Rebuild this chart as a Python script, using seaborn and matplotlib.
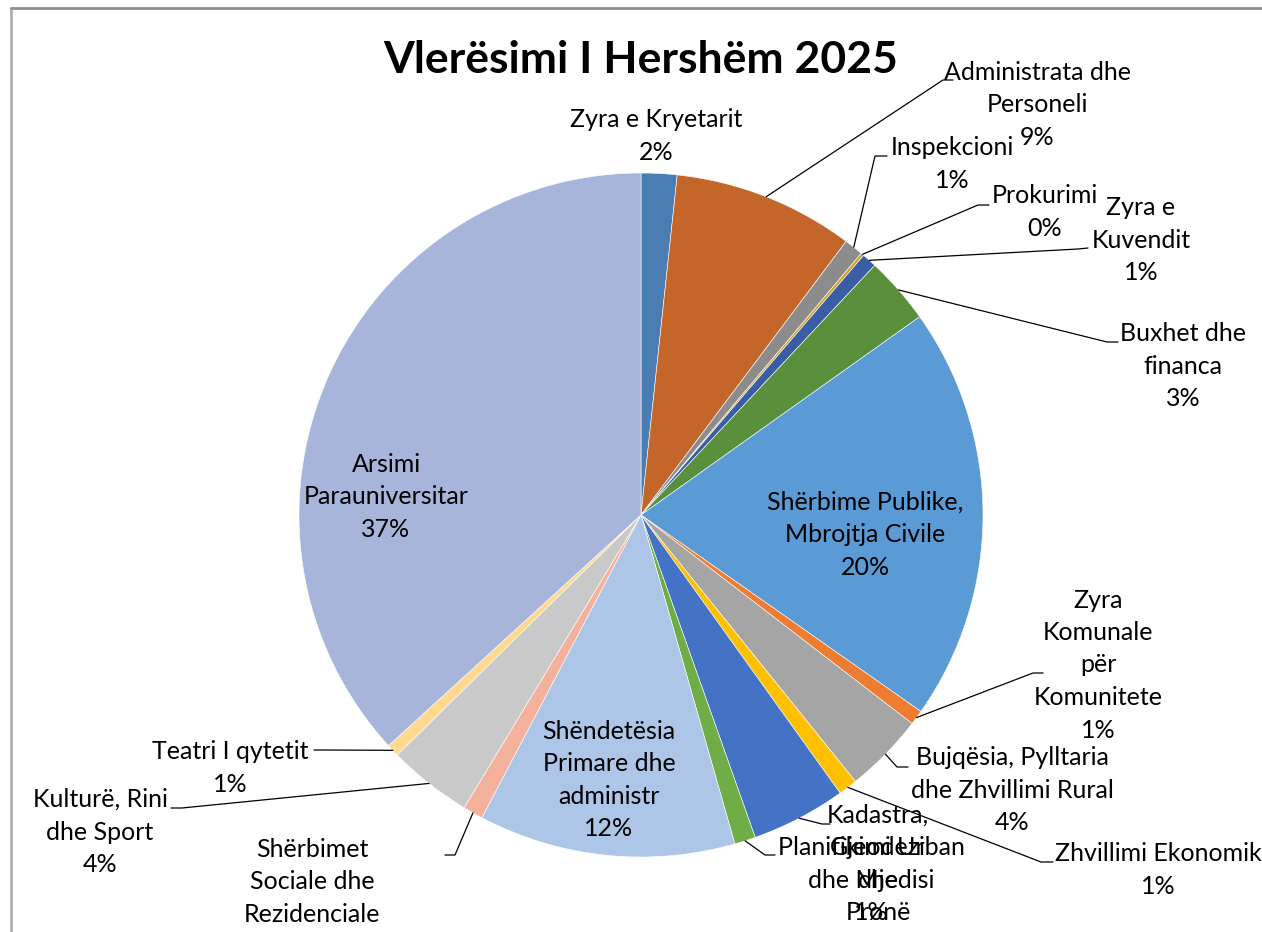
import numpy as np
import matplotlib
matplotlib.use("Agg")
import matplotlib.pyplot as plt
import seaborn as sns

# datos (porcentaje aproximado de cada sector)
sectores = [
    "Zyra e Kryetarit", "Administrata dhe\nPersoneli", "Inspekcioni", "Prokurimi",
    "Zyra e\nKuvendit", "Buxhet dhe\nfinanca", "Shërbime Publike,\nMbrojtja Civile",
    "Zyra\nKomunale\npër\nKomunitete", "Bujqësia, Pylltaria\ndhe Zhvillimi Rural",
    "Zhvillimi Ekonomik", "Kadastra,\nGjeodezi\ndhe\nPronë", "Planifikimi Urban\ndhe Mjedisi",
    "Shëndetësia\nPrimare dhe\nadministr", "Shërbimet\nSociale dhe\nRezidenciale",
    "Kulturë, Rini\ndhe Sport", "Teatri I qytetit", "Arsimi\nParauniversitar",
]
valores = [1.7, 8.6, 0.9, 0.15, 0.7, 3.2, 19.7, 0.7, 3.8, 0.9, 4.5, 1.0,
           12.2, 0.95, 4.0, 0.6, 37.0]
colores = ["#4A7EB3", "#C4652A", "#8C8C8C", "#D6A228", "#3A5EA6", "#5A8F3B",
           "#5B9BD5", "#ED7D31", "#A5A5A5", "#FFC000", "#4472C4", "#70AD47",
           "#ADC6E8", "#F4B29C", "#C9C9C9", "#FFD98F", "#A8B5DA"]

W, H = 1262, 932
# centro y radio del pastel en pixeles
cx, cy, radio = 641, 515, 342

# centro de cada etiqueta (pixeles)
pos_etiq = [(656, 136), (1037, 105), (952, 164), (1045, 212), (1141, 240),
            (1183, 366), (865, 535), (1098, 665), (1012, 790), (1158, 870),
            (878, 880), (871, 880), (609, 780), (312, 898), (100, 832), (230, 768),
            (386, 497)]
# lineas guia: codo y extremo (pixeles), None = sin linea
codo = [None, (943, 80), (875, 156), (978, 205), (1078, 249), (1107, 342),
        None, (1033, 673), (897, 767), (1041, 862), (822, 824), (765, 855),
        None, (455, 855), (182, 808), (323, 750), None]
extremo = [None, (953, 80), (887, 156), (989, 205), (1088, 248), (1118, 342),
           None, (1043, 673), (908, 767), (1053, 862), (830, 824), (775, 855),
           None, (445, 855), (171, 808), (314, 750), None]

sns.set_theme(style="white")
plt.rcParams["font.family"] = ["Lato", "DejaVu Sans"]

fig = plt.figure(figsize=(W / 100, H / 100), dpi=100)
ax = fig.add_axes([0, 0, 1, 1])

# con el eje y invertido, counterclock=True gira en sentido horario en pantalla
wedges, _ = ax.pie(valores, colors=colores, startangle=-90, counterclock=True,
                   center=(cx, cy), radius=radio, frame=True,
                   wedgeprops=dict(linewidth=0.4, edgecolor="white"))
ax.set_xlim(0, W)
ax.set_ylim(H, 0)
ax.set_aspect("equal")
ax.axis("off")

total = sum(valores)
fs = 18
for i, w in enumerate(wedges):
    pct = f"{valores[i] / total * 100:.0f}%"
    x, y = pos_etiq[i]
    ax.text(x, y, sectores[i] + "\n" + pct, ha="center", va="center",
            fontsize=fs, linespacing=1.5, color="black")
    if codo[i] is not None:
        ang = np.deg2rad((w.theta1 + w.theta2) / 2)
        x0 = cx + radio * np.cos(ang)
        y0 = cy + radio * np.sin(ang)
        ax.plot([x0, codo[i][0], extremo[i][0]], [y0, codo[i][1], extremo[i][1]],
                color="black", lw=0.9)

ax.text(641, 60, "Vlerësimi I Hershëm 2025", ha="center", va="center",
        fontsize=32, fontweight="bold", color="black")

# marco del area del grafico
ax.plot([11, 11], [H, 8], color="#B0B0B0", lw=2)
ax.plot([11, W], [8, 8], color="#8C8C8C", lw=2)

fig.savefig("out.png", dpi=100)
